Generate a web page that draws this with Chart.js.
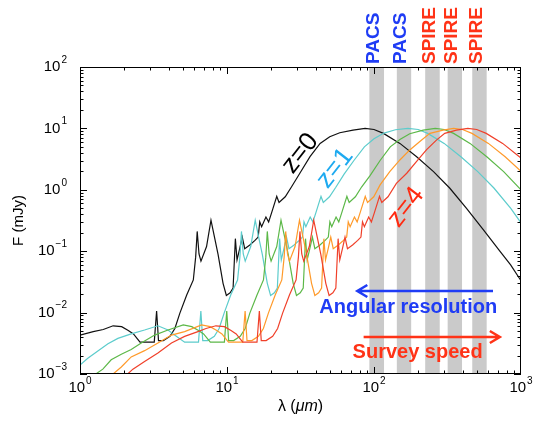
<!DOCTYPE html>
<html>
<head>
<meta charset="utf-8">
<script src="https://cdn.jsdelivr.net/npm/chart.js@4.4.1/dist/chart.umd.min.js"></script>
<style>
  html, body { margin: 0; padding: 0; background: #fff; }
</style>
</head>
<body>
<canvas id="sed" width="533" height="425"></canvas>
<script>
// SED theo z (lambda µm, F mJy)
const sedZ0 = [[1.0,0.0043],[1.23,0.0049],[1.44,0.0053],[1.68,0.0061],[1.92,0.0059],[2.13,0.0051],[2.31,0.0045],[2.56,0.0033],[3.2,0.0033],[3.32,0.0106],[3.42,0.0035],[3.69,0.0035],[4.09,0.0041],[4.42,0.0055],[4.78,0.0098],[5.32,0.0194],[5.9,0.034],[6.12,0.08],[6.27,0.21],[6.45,0.09],[6.65,0.069],[7.26,0.119],[7.78,0.32],[8.26,0.16],[8.7,0.088],[9.4,0.03],[9.9,0.019],[10.5,0.021],[11.0,0.025],[11.4,0.16],[11.7,0.072],[12.2,0.11],[12.7,0.17],[13.2,0.11],[14.3,0.126],[15.5,0.15],[16.3,0.17],[16.7,0.3],[17.2,0.25],[18.4,0.36],[19.2,0.3],[20.1,0.42],[21.8,0.78],[22.6,0.62],[24.9,0.77],[27.5,1.12],[31.3,1.86],[36.7,3.46],[43,5.7],[50,7.3],[58.5,8.5],[72,9.4],[87,10.0],[100,9.6],[116,8.3],[150,5.7],[195,3.46],[254,1.98],[327,1.07],[426,0.5],[557,0.22],[718,0.1],[850,0.06],[1000,0.033]];
const sedZ1 = [[1.0,0.0014],[1.13,0.0018],[1.33,0.0024],[1.55,0.0031],[1.81,0.0038],[2.23,0.0045],[2.75,0.0052],[3.39,0.0061],[3.97,0.0052],[4.4,0.0043],[5.15,0.0033],[6.4,0.0033],[6.64,0.0106],[6.84,0.0035],[7.4,0.0035],[8.2,0.0041],[8.84,0.0055],[9.56,0.0098],[10.6,0.0194],[11.8,0.034],[12.24,0.08],[12.54,0.21],[12.9,0.09],[13.3,0.069],[14.5,0.119],[15.56,0.32],[16.5,0.16],[17.4,0.088],[18.8,0.03],[19.8,0.019],[21.0,0.021],[22.0,0.025],[22.8,0.16],[23.4,0.072],[24.4,0.11],[25.4,0.17],[26.4,0.11],[28.6,0.126],[31.0,0.15],[32.6,0.17],[33.4,0.3],[34.4,0.25],[36.8,0.36],[38.4,0.3],[40.2,0.42],[43.6,0.78],[45.2,0.62],[49.8,0.77],[55,1.1],[62.6,1.8],[73,3.0],[86,5.0],[100,6.8],[117,8.4],[140,9.5],[170,10.0],[200,9.6],[232,8.3],[300,5.7],[390,3.46],[508,1.98],[654,1.07],[852,0.5],[1000,0.29]];
const sedZ2 = [[1.28,0.001],[1.43,0.0012],[1.63,0.0017],[1.91,0.0021],[2.23,0.0025],[2.61,0.0032],[3.22,0.0043],[3.97,0.0052],[5.04,0.0063],[5.76,0.0059],[6.4,0.0051],[6.93,0.0045],[7.7,0.0033],[9.6,0.0033],[9.96,0.0106],[10.26,0.0035],[11.1,0.0035],[12.3,0.0041],[13.3,0.0055],[14.3,0.0098],[16.0,0.0194],[17.7,0.034],[18.36,0.08],[18.8,0.21],[19.35,0.09],[19.95,0.069],[21.8,0.119],[23.3,0.32],[24.8,0.16],[26.1,0.088],[28.2,0.03],[29.7,0.019],[31.5,0.021],[33,0.025],[34.2,0.16],[35.1,0.072],[36.6,0.11],[38.1,0.17],[39.6,0.11],[42.9,0.126],[46.5,0.15],[48.9,0.17],[50.1,0.3],[51.6,0.25],[55.2,0.36],[57.6,0.3],[60.3,0.42],[65.4,0.78],[67.8,0.62],[74.7,0.77],[82.5,1.12],[94,1.7],[110,3.0],[129,5.0],[150,6.6],[175,8.2],[216,9.4],[261,10.0],[300,9.6],[348,8.3],[450,5.7],[585,3.46],[762,1.98],[1000,1.0]];
const sedZ3 = [[1.68,0.001],[1.91,0.0013],[2.23,0.0019],[2.75,0.0024],[3.39,0.0032],[4.19,0.0043],[5.15,0.0049],[6.72,0.0063],[7.68,0.0059],[8.52,0.0051],[9.24,0.0045],[10.24,0.0033],[12.8,0.0033],[13.28,0.0106],[13.68,0.0035],[14.76,0.0035],[16.36,0.0041],[17.68,0.0055],[19.12,0.0098],[21.28,0.0194],[23.6,0.034],[24.48,0.08],[25.08,0.21],[25.8,0.09],[26.6,0.069],[29.04,0.119],[31.12,0.32],[33.04,0.16],[34.8,0.088],[37.6,0.03],[39.6,0.019],[42,0.021],[44,0.025],[45.6,0.16],[46.8,0.072],[48.8,0.11],[50.8,0.17],[52.8,0.11],[57.2,0.126],[62,0.15],[65.2,0.17],[66.8,0.3],[68.8,0.25],[73.6,0.36],[76.8,0.3],[80.4,0.42],[87.2,0.78],[90.4,0.62],[99.6,0.77],[110,1.2],[128,1.98],[150,3.06],[176,4.5],[205,6.1],[240,8.3],[295,9.4],[348,10.0],[400,9.6],[464,8.3],[600,5.7],[780,3.46],[1000,2.0]];
const sedZ4 = [[2.11,0.001],[2.29,0.0012],[2.75,0.0016],[3.39,0.0022],[4.19,0.0032],[5.15,0.0041],[6.34,0.0049],[7.2,0.0055],[8.4,0.0061],[9.6,0.0059],[10.65,0.0051],[11.55,0.0045],[12.8,0.0033],[16,0.0033],[16.6,0.0106],[17.1,0.0035],[18.45,0.0035],[20.45,0.0041],[22.1,0.0055],[23.9,0.0098],[26.6,0.0194],[29.5,0.034],[30.6,0.08],[31.35,0.21],[32.25,0.09],[33.25,0.069],[36.3,0.119],[38.9,0.32],[41.3,0.16],[43.5,0.088],[47,0.03],[49.5,0.019],[52.5,0.021],[55,0.025],[57,0.16],[58.5,0.072],[61,0.11],[63.5,0.17],[66,0.11],[71.5,0.126],[77.5,0.15],[81.5,0.17],[83.5,0.3],[86,0.25],[92,0.36],[96,0.3],[100.5,0.42],[109,0.78],[113,0.62],[124.5,0.77],[142,1.27],[167,1.86],[195,2.9],[228,4.5],[267,6.5],[303,8.3],[364,9.4],[435,10.0],[500,9.6],[580,8.3],[750,5.7],[975,3.46],[1000,3.3]];

// dải lọc PACS / SPIRE (µm)
const bandNames = ['PACS', 'PACS', 'SPIRE', 'SPIRE', 'SPIRE'];
const bandLo = [93, 143, 223, 317, 466];
const bandHi = [117, 179, 280, 397, 584];

const xTicks = [1, 10, 100, 1000];
const yTicks = [0.001, 0.01, 0.1, 1, 10, 100];

const FONT = '"Liberation Sans", Arial, Helvetica, sans-serif';
const BLUE = '#1f3cf5';
const RED = '#ff3317';

function toPts(arr) {
  return arr.map(p => ({ x: p[0], y: p[1] }));
}

// vẽ nhãn dạng 10^n
function drawPow(ctx, x, y, exp, align) {
  ctx.font = '15px ' + FONT;
  const base = '10';
  const sup = exp < 0 ? '\u2212' + (-exp) : '' + exp;
  const wb = ctx.measureText(base).width;
  ctx.font = '10px ' + FONT;
  const ws = ctx.measureText(sup).width + 1;
  let left;
  if (align === 'right') left = x - wb - ws;
  else left = x - (wb + ws) / 2;
  ctx.textAlign = 'left';
  ctx.textBaseline = 'middle';
  ctx.font = '15px ' + FONT;
  ctx.fillText(base, left, y);
  ctx.font = '10px ' + FONT;
  ctx.fillText(sup, left + wb + 1, y - 7);
}

function drawArrow(ctx, x1, x2, y, color) {
  ctx.save();
  ctx.strokeStyle = color;
  ctx.lineWidth = 2.5;
  ctx.beginPath();
  ctx.moveTo(x1, y);
  ctx.lineTo(x2, y);
  const dir = x2 > x1 ? 1 : -1;
  ctx.moveTo(x2 - dir * 10, y - 6);
  ctx.lineTo(x2, y);
  ctx.lineTo(x2 - dir * 10, y + 6);
  ctx.stroke();
  ctx.restore();
}

const sedOverlay = {
  id: 'sedOverlay',
  beforeDatasetsDraw(chart) {
    const { ctx, chartArea, scales } = chart;
    ctx.save();
    ctx.fillStyle = '#cacaca';
    for (let i = 0; i < bandLo.length; i++) {
      const a = scales.x.getPixelForValue(bandLo[i]);
      const b = scales.x.getPixelForValue(bandHi[i]);
      ctx.fillRect(a, chartArea.top, b - a, chartArea.bottom - chartArea.top);
    }
    ctx.restore();
  },
  afterDatasetsDraw(chart) {
    const { ctx, chartArea: ca, scales } = chart;
    const sx = scales.x, sy = scales.y;
    ctx.save();

    // khung + vạch chia hướng vào trong
    ctx.strokeStyle = '#000';
    ctx.lineWidth = 1;
    ctx.strokeRect(ca.left + 0.5, ca.top + 0.5, ca.right - ca.left - 1, ca.bottom - ca.top - 1);
    ctx.beginPath();
    for (let d = 0; d < 3; d++) {
      for (let k = 1; k <= 9; k++) {
        const v = k * Math.pow(10, d);
        const px = Math.round(sx.getPixelForValue(v)) + 0.5;
        const len = k === 1 ? 7 : 3.5;
        ctx.moveTo(px, ca.bottom); ctx.lineTo(px, ca.bottom - len);
        ctx.moveTo(px, ca.top); ctx.lineTo(px, ca.top + len);
      }
    }
    for (let d = -3; d < 2; d++) {
      for (let k = 1; k <= 9; k++) {
        const v = k * Math.pow(10, d);
        const py = Math.round(sy.getPixelForValue(v)) + 0.5;
        const len = k === 1 ? 7 : 3.5;
        ctx.moveTo(ca.left, py); ctx.lineTo(ca.left + len, py);
        ctx.moveTo(ca.right, py); ctx.lineTo(ca.right - len, py);
      }
    }
    ctx.stroke();

    // nhãn trục
    ctx.fillStyle = '#000';
    xTicks.forEach(v => drawPow(ctx, sx.getPixelForValue(v), ca.bottom + 14, Math.round(Math.log10(v)), 'center'));
    yTicks.forEach(v => drawPow(ctx, ca.left - 13, sy.getPixelForValue(v), Math.round(Math.log10(v)), 'right'));

    // tiêu đề trục
    ctx.font = '15px ' + FONT;
    ctx.textAlign = 'center';
    ctx.textBaseline = 'middle';
    ctx.save();
    ctx.translate(19, (ca.top + ca.bottom) / 2);
    ctx.rotate(-Math.PI / 2);
    ctx.fillText('F (mJy)', 0, 0);
    ctx.restore();
    ctx.font = '16px ' + FONT;
    const t1 = '\u03bb (', t2 = '\u03bcm', t3 = ')';
    const w1 = ctx.measureText(t1).width;
    ctx.font = 'italic 16px ' + FONT;
    const w2 = ctx.measureText(t2).width;
    ctx.font = '16px ' + FONT;
    const w3 = ctx.measureText(t3).width;
    let lx = (ca.left + ca.right) / 2 - (w1 + w2 + w3) / 2;
    ctx.textAlign = 'left';
    ctx.fillText(t1, lx, 407);
    ctx.font = 'italic 16px ' + FONT;
    ctx.fillText(t2, lx + w1, 407);
    ctx.font = '16px ' + FONT;
    ctx.fillText(t3, lx + w1 + w2, 407);

    // tên dải lọc
    ctx.font = 'bold 19px ' + FONT;
    for (let i = 0; i < bandLo.length; i++) {
      const cx = (sx.getPixelForValue(bandLo[i]) + sx.getPixelForValue(bandHi[i])) / 2 - 3;
      ctx.save();
      ctx.translate(cx, ca.top - 3);
      ctx.rotate(-Math.PI / 2);
      ctx.fillStyle = bandNames[i] === 'PACS' ? BLUE : RED;
      ctx.textAlign = 'left';
      ctx.textBaseline = 'middle';
      ctx.fillText(bandNames[i], 0, 0);
      ctx.restore();
    }

    // nhãn z
    const zLabels = [
      { t: 'z=0', x: 31.5, y: 3.9, c: '#000' },
      { t: 'z=1', x: 54.3, y: 2.25, c: '#1eaaf0' },
      { t: 'z=4', x: 165, y: 0.52, c: '#ff2a10' }
    ];
    ctx.font = '26px ' + FONT;
    zLabels.forEach(z => {
      ctx.save();
      ctx.translate(sx.getPixelForValue(z.x), sy.getPixelForValue(z.y));
      ctx.rotate(-52 * Math.PI / 180);
      ctx.fillStyle = z.c;
      ctx.textAlign = 'center';
      ctx.textBaseline = 'middle';
      ctx.fillText(z.t, 0, 0);
      ctx.restore();
    });

    // mũi tên + chú thích
    drawArrow(ctx, sx.getPixelForValue(645), sx.getPixelForValue(77), sy.getPixelForValue(0.0225), BLUE);
    drawArrow(ctx, sx.getPixelForValue(85), sx.getPixelForValue(718), sy.getPixelForValue(0.0040), RED);
    ctx.font = 'bold 20px ' + FONT;
    ctx.textAlign = 'center';
    ctx.textBaseline = 'middle';
    ctx.fillStyle = BLUE;
    ctx.fillText('Angular resolution', sx.getPixelForValue(171), sy.getPixelForValue(0.0119));
    ctx.fillStyle = RED;
    ctx.fillText('Survey speed', sx.getPixelForValue(198), sy.getPixelForValue(0.0022));

    ctx.restore();
  }
};

function makeSet(label, arr, color) {
  return {
    label: label,
    data: toPts(arr),
    borderColor: color,
    borderWidth: 1.2,
    pointRadius: 0,
    fill: false,
    tension: 0
  };
}

const ctx = document.getElementById('sed').getContext('2d');
new Chart(ctx, {
  type: 'line',
  data: {
    datasets: [
      makeSet('z=4', sedZ4, '#f0402a'),
      makeSet('z=3', sedZ3, '#ff9a2a'),
      makeSet('z=2', sedZ2, '#5cb848'),
      makeSet('z=1', sedZ1, '#5ccccc'),
      makeSet('z=0', sedZ0, '#111111')
    ]
  },
  options: {
    responsive: false,
    animation: false,
    layout: { padding: { left: 80, right: 12, top: 67, bottom: 51 } },
    plugins: {
      legend: { display: false },
      tooltip: { enabled: false }
    },
    scales: {
      x: { type: 'logarithmic', min: 1, max: 1000, display: false },
      y: { type: 'logarithmic', min: 0.001, max: 100, display: false }
    }
  },
  plugins: [sedOverlay]
});
</script>
</body>
</html>
